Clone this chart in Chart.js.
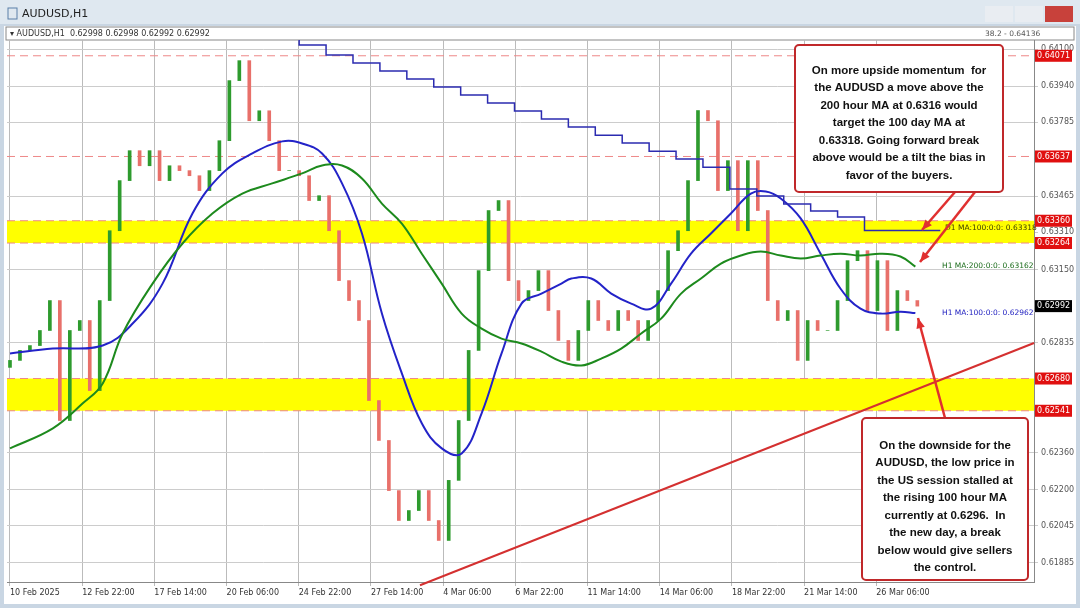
<!DOCTYPE html><html><head><meta charset="utf-8">
<script src="https://cdn.jsdelivr.net/npm/chart.js@4"></script>
<style>html,body{margin:0;padding:0;background:#c9d6e3;}#w{position:relative;width:1080px;height:608px;overflow:hidden}
canvas{position:absolute;left:0;top:0}</style></head><body><div id="w"><canvas id="c" width="1080" height="608"></canvas></div>
<script>
const xStep=10, x0px=7;
const closes=[0.62758,0.62801,0.62822,0.62887,0.63016,0.62499,0.62887,0.62930,0.62628,0.63016,0.63317,0.63533,0.63662,0.63597,0.63662,0.63533,0.63597,0.63576,0.63554,0.63490,0.63576,0.63705,0.63964,0.64050,0.63791,0.63834,0.63705,0.63576,0.63576,0.63554,0.63447,0.63468,0.63317,0.63102,0.63016,0.62930,0.62585,0.62413,0.62197,0.62068,0.62111,0.62197,0.62068,0.61982,0.62241,0.62499,0.62801,0.63145,0.63404,0.63447,0.63102,0.63016,0.63059,0.63145,0.62973,0.62844,0.62758,0.62887,0.63016,0.62930,0.62887,0.62973,0.62930,0.62844,0.62930,0.63059,0.63231,0.63317,0.63533,0.63835,0.63791,0.63490,0.63619,0.63317,0.63619,0.63404,0.63016,0.62930,0.62973,0.62758,0.62930,0.62887,0.62887,0.63016,0.63188,0.63231,0.62973,0.63188,0.62887,0.63059,0.63016,0.62992];
const dateLabels=['10 Feb 2025','12 Feb 22:00','17 Feb 14:00','20 Feb 06:00','24 Feb 22:00','27 Feb 14:00','4 Mar 06:00','6 Mar 22:00','11 Mar 14:00','14 Mar 06:00','18 Mar 22:00','21 Mar 14:00','26 Mar 06:00'];
const priceTicks=[0.64100,0.63940,0.63785,0.63465,0.63310,0.63150,0.62835,0.62360,0.62200,0.62045,0.61885];
const ma100x=[7,50,100,130,160,190,220,250,280,300,320,340,360,380,400,420,440,460,480,500,520,540,560,570,590,610,630,650,670,690,710,730,750,765,780,800,820,840,860,880,900,915];
const ma100y=[0.62788,0.62809,0.62822,0.62917,0.63089,0.63391,0.63564,0.63650,0.63702,0.63693,0.63650,0.63521,0.63305,0.62960,0.62702,0.62487,0.62379,0.62357,0.62530,0.62788,0.63003,0.63046,0.63089,0.63111,0.63111,0.63046,0.63003,0.62981,0.63089,0.63218,0.63305,0.63391,0.63477,0.63486,0.63456,0.63370,0.63218,0.63067,0.62981,0.62960,0.62968,0.62962];
const ma200x=[7,50,80,100,120,150,180,210,240,270,300,320,340,360,380,400,420,440,460,480,500,520,540,560,580,600,620,640,660,680,700,720,740,760,780,800,820,840,860,880,900,915];
const ma200y=[0.62379,0.62465,0.62573,0.62659,0.62874,0.63089,0.63262,0.63391,0.63477,0.63521,0.63564,0.63598,0.63598,0.63542,0.63434,0.63348,0.63218,0.63089,0.62960,0.62895,0.62852,0.62831,0.62796,0.62753,0.62736,0.62766,0.62809,0.62874,0.62938,0.63046,0.63111,0.63175,0.63210,0.63227,0.63210,0.63197,0.63210,0.63218,0.63210,0.63218,0.63206,0.63162];
const d1x=[270,297,324,351,378,405,432,459,486,513,540,567,594,621,648,675,702,729,756,783,810,837,864,890,940];
const d1y=[0.64178,0.64152,0.64117,0.64074,0.64040,0.64005,0.63971,0.63936,0.63902,0.63867,0.63833,0.63798,0.63764,0.63729,0.63695,0.63660,0.63626,0.63591,0.63497,0.63467,0.63432,0.63402,0.63376,0.63318,0.63318];
const redLevels=[0.64071,0.63637,0.63360,0.63264,0.62680,0.62541];
const bands=[[0.63360,0.63264],[0.62680,0.62541]];
const trend=[[420,0.61789],[1034,0.62833]];
const topText=['On more upside momentum  for','the AUDUSD a move above the','200 hour MA at 0.6316 would','target the 100 day MA at','0.63318. Going forward break','above would be a tilt the bias in','favor of the buyers.'];
const botText=['On the downside for the','AUDUSD, the low price in','the US session stalled at','the rising 100 hour MA','currently at 0.6296.  In','the new day, a break','below would give sellers','the control.'];
const px2i=p=>(p-x0px)/xStep;
const candles=closes.map((c,i)=>({x:i,y:[i?closes[i-1]:c-0.0003,c]}));
const cCol=candles.map(d=>d.y[1]>=d.y[0]?'#2e9b2e':'#e8706a');
const xy=(xs,ys)=>xs.map((x,i)=>({x:px2i(x),y:ys[i]}));
const deco={id:'deco',beforeDatasetsDraw(ch){const {ctx,chartArea:a,scales:{x,y}}=ch;ctx.save();
 ctx.fillStyle='#ffff00';bands.forEach(b=>{ctx.fillRect(a.left,y.getPixelForValue(b[0]),a.right-a.left,y.getPixelForValue(b[1])-y.getPixelForValue(b[0]));});
 ctx.strokeStyle='#e88';ctx.setLineDash([8,5]);ctx.lineWidth=1;redLevels.forEach(v=>{const p=y.getPixelForValue(v);ctx.beginPath();ctx.moveTo(a.left,p);ctx.lineTo(a.right,p);ctx.stroke();});
 ctx.restore();},
 afterDatasetsDraw(ch){const {ctx,chartArea:a,scales:{x,y}}=ch;ctx.save();
 ctx.strokeStyle='#d43030';ctx.lineWidth=2;ctx.beginPath();ctx.moveTo(trend[0][0],y.getPixelForValue(trend[0][1]));ctx.lineTo(trend[1][0],y.getPixelForValue(trend[1][1]));ctx.stroke();
 ctx.font='7.5px "DejaVu Sans"';ctx.textBaseline='bottom';
 ctx.fillStyle='#1a6b1a';ctx.fillText('H1 MA:200:0:0: 0.63162',942,y.getPixelForValue(0.63162)+3);
 ctx.fillStyle='#2020c0';ctx.fillText('H1 MA:100:0:0: 0.62962',942,y.getPixelForValue(0.62962)+4);
 ctx.fillStyle='#404000';ctx.fillText('D1 MA:100:0:0: 0.63318',945,y.getPixelForValue(0.63318)+1);
 ctx.fillStyle='#555';ctx.fillText('38.2 - 0.64136',985,38);
 ctx.font='8px "DejaVu Sans"';ctx.textBaseline='middle';
 redLevels.forEach(v=>{const p=y.getPixelForValue(v);ctx.fillStyle='#e01010';ctx.fillRect(1035,p-6,37,12);ctx.fillStyle='#fff';ctx.fillText(v.toFixed(5),1037,p);});
 {const p=y.getPixelForValue(0.62992);ctx.fillStyle='#000';ctx.fillRect(1035,p-6,37,12);ctx.fillStyle='#fff';ctx.fillText('0.62992',1037,p);}
 function box(x0,y0,w,h,lines,lh,ty){ctx.fillStyle='#fff';ctx.fillRect(x0,y0,w,h);ctx.strokeStyle='#c0282a';ctx.lineWidth=2;ctx.beginPath();ctx.roundRect(x0,y0,w,h,4);ctx.stroke();
  ctx.fillStyle='#111';ctx.font='bold 11.5px "Liberation Sans"';ctx.textAlign='center';ctx.textBaseline='top';lines.forEach((l,i)=>ctx.fillText(l,x0+w/2,ty+i*lh));ctx.textAlign='left';}
 function arrow(x1,y1,x2,y2){ctx.strokeStyle='#e03030';ctx.fillStyle='#e03030';ctx.lineWidth=2.5;ctx.beginPath();ctx.moveTo(x1,y1);ctx.lineTo(x2,y2);ctx.stroke();const an=Math.atan2(y2-y1,x2-x1);ctx.beginPath();ctx.moveTo(x2,y2);ctx.lineTo(x2-11*Math.cos(an-0.4),y2-11*Math.sin(an-0.4));ctx.lineTo(x2-11*Math.cos(an+0.4),y2-11*Math.sin(an+0.4));ctx.fill();}
 arrow(955,192,922,230);arrow(975,192,920,262);arrow(945,418,918,318);
 box(795,45,208,147,topText,17.5,65);box(862,418,166,162,botText,17.5,440);
 ctx.restore();}};
new Chart(document.getElementById('c'),{type:'bar',data:{datasets:[
 {type:'line',data:xy(d1x,d1y),borderColor:'#2b2bb0',borderWidth:1.5,pointRadius:0,stepped:'after',order:1},
 {type:'line',data:xy(ma200x,ma200y),borderColor:'#1d8a1d',borderWidth:2,pointRadius:0,tension:0.4,order:2},
 {type:'line',data:xy(ma100x,ma100y),borderColor:'#2323c8',borderWidth:2,pointRadius:0,tension:0.4,order:3},
 {type:'bar',data:candles,backgroundColor:cCol,barThickness:3,order:4}]},
 options:{animation:false,responsive:false,events:[],
 layout:{padding:{left:7,top:40,right:0,bottom:6}},
 plugins:{legend:{display:false},tooltip:{enabled:false}},
 scales:{x:{type:'linear',offset:false,min:-0.3,max:px2i(1034),
   afterBuildTicks(s){s.ticks=dateLabels.map((l,i)=>({value:i*7.24}));},
   ticks:{callback:(v,i)=>dateLabels[i],maxRotation:0,autoSkip:false,align:'start',font:{size:8,family:'DejaVu Sans'},color:'#333',padding:2},
   grid:{color:'#bbb',tickLength:4,lineWidth:1,offset:false},border:{color:'#888'},afterFit(s){s.height=20;}},
  y:{position:'right',min:0.61803,max:0.64139,
   afterBuildTicks(s){s.ticks=priceTicks.map(v=>({value:v}));},
   ticks:{callback:v=>v.toFixed(5),font:{size:8,family:'DejaVu Sans'},color:'#555',padding:3},
   grid:{color:'#ccc',tickLength:4},border:{color:'#888'},afterFit(s){s.width=46;}}}},
 plugins:[{id:'bg',beforeDraw(ch){const {ctx,chartArea:a}=ch;ctx.save();ctx.fillStyle='#c9d6e3';ctx.fillRect(0,0,1080,608);
  ctx.fillStyle='#fff';ctx.fillRect(4,26,1072,578);ctx.fillStyle='#dfe8f0';ctx.fillRect(0,0,1080,24);
  ctx.fillStyle='#222';ctx.font='11px "DejaVu Sans"';ctx.textBaseline='middle';ctx.fillText('AUDUSD,H1',22,14);
  ctx.strokeStyle='#5a7fa8';ctx.strokeRect(8,8,9,11);
  ['#e9edf2','#e9edf2','#c8413b'].forEach((c,i)=>{ctx.fillStyle=c;ctx.fillRect(985+i*30,6,28,16);});
  ctx.fillStyle='#333';ctx.font='8px "DejaVu Sans"';ctx.fillText('▾ AUDUSD,H1  0.62998 0.62998 0.62992 0.62992',10,34);
  ctx.strokeStyle='#888';ctx.strokeRect(6,27,1068,13);
  ctx.restore();}},deco]});
</script></body></html>
